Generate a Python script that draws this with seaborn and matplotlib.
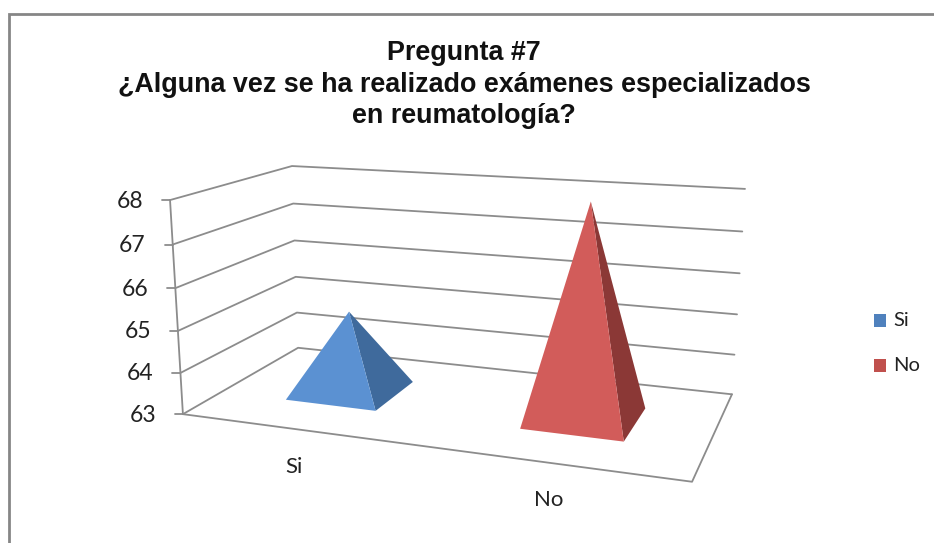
import numpy as np
import pandas as pd
import matplotlib
matplotlib.use('Agg')
import matplotlib.pyplot as plt
import seaborn as sns

# ── Data ──────────────────────────────────────────────────────────────────────
categories = ['Si', 'No']
values     = [65, 68]
y_ticks    = [63, 64, 65, 66, 67, 68]
title_text = 'Pregunta #7\n¿Alguna vez se ha realizado exámenes especializados\nen reumatología?'

# ── Style ─────────────────────────────────────────────────────────────────────
sns.set_theme(style='white')
plt.rcParams['font.family'] = ['Lato', 'DejaVu Sans']

LINE_COL = '#8c8c8c'
legend_cols = sns.color_palette(['#4F81BD', '#C0504D'])
front_cols  = ['#5B91D2', '#D25C5A']
side_cols   = ['#3F6A9C', '#8B3836']

# ── 3D projection: (u, depth, value) → image pixels ──────────────────────────
Y_MIN, Y_MAX = y_ticks[0], y_ticks[-1]
world = [(0, 0, 0), (0, 1, 0), (1, 1, 0), (1, 0, 0), (0, 0, 1), (0, 1, 1), (1, 1, 1)]
image = [(183, 414), (298, 348), (732, 394), (692, 482), (170, 200), (292, 166), (745, 189)]

A, b = [], []
for (u, d, h), (x, y) in zip(world, image):
    A.append([u, d, h, 1, 0, 0, 0, 0, -x*u, -x*d, -x*h]); b.append(x)
    A.append([0, 0, 0, 0, u, d, h, 1, -y*u, -y*d, -y*h]); b.append(y)
P = np.append(np.linalg.lstsq(np.array(A, float), np.array(b, float), rcond=None)[0], 1).reshape(3, 4)


def project(u, d, val):
    h = (val - Y_MIN) / (Y_MAX - Y_MIN)
    v = P @ np.array([u, d, h, 1.0])
    return v[0] / v[2], v[1] / v[2]


# ── Canvas in image pixels ────────────────────────────────────────────────────
fig = plt.figure(figsize=(9.34, 5.43), dpi=100)
ax = fig.add_axes([0, 0, 1, 1])
ax.set_xlim(0, 934); ax.set_ylim(543, 0); ax.axis('off')

# outer chart frame (only top and left are inside the crop)
ax.plot([8.5, 8.5, 934], [543, 13.5, 13.5], color='#868686', lw=2.0, solid_joinstyle='miter')

# ── Walls, floor, axis ────────────────────────────────────────────────────────
rows = []
def add_line(name, pts):
    for u, d, val in pts:
        px, py = project(u, d, val)
        rows.append({'line': name, 'order': len(rows), 'px': px, 'py': py})

for val in y_ticks:
    add_line(f'grid{val}', [(0, 0, val), (0, 1, val), (1, 1, val)])
add_line('axis', [(0, 0, Y_MIN), (0, 0, Y_MAX)])
add_line('floor', [(0, 0, Y_MIN), (1, 0, Y_MIN), (1, 1, Y_MIN)])
lines_df = pd.DataFrame(rows)
sns.lineplot(data=lines_df, x='px', y='py', units='line', estimator=None, sort=False,
             color=LINE_COL, lw=1.3, legend=False, ax=ax)
ax.set_xlim(0, 934); ax.set_ylim(543, 0)

# ticks and labels of the value axis
for val in y_ticks:
    px, py = project(0, 0, val)
    ax.plot([px - 8, px], [py, py], color=LINE_COL, lw=1.3)
    ax.text(px - 27, py + 1, str(val), ha='right', va='center', fontsize=16.5, color='#222222')

# ── Pyramids ──────────────────────────────────────────────────────────────────
for i, (cat, val) in enumerate(zip(categories, values)):
    uc = (i + 0.5) / len(categories)
    hw = 0.4 / len(categories) / 2
    dl, dh = 0.3, 0.7
    apex = project(uc, 0.5, val)
    fl = project(uc - hw, dl, Y_MIN)
    fr = project(uc + hw, dl, Y_MIN)
    br = project(uc + hw, dh, Y_MIN)
    ax.fill(*zip(fr, br, apex), color=side_cols[i], lw=0, zorder=3)
    ax.fill(*zip(fl, fr, apex), color=front_cols[i], lw=0, zorder=4)

# category labels
label_pos = [(294, 467), (549, 500)]
for cat, (lx, ly) in zip(categories, label_pos):
    ax.text(lx, ly, cat, ha='center', va='center', fontsize=16, color='#222222')

# ── Legend ────────────────────────────────────────────────────────────────────
for cat, col, ly in zip(categories, legend_cols, [320, 365.5]):
    ax.add_patch(plt.Rectangle((873.5, ly - 6.5), 12.5, 13, facecolor=col, edgecolor='none'))
    ax.text(893, ly, cat, ha='left', va='center', fontsize=14.5, color='#222222')

# ── Title ─────────────────────────────────────────────────────────────────────
ax.text(464, 84.5, title_text, ha='center', va='center', ma='center', fontsize=19.35,
        fontweight='bold', color='#111111', family='Liberation Sans', linespacing=1.27)

fig.savefig('out.png', dpi=100)
